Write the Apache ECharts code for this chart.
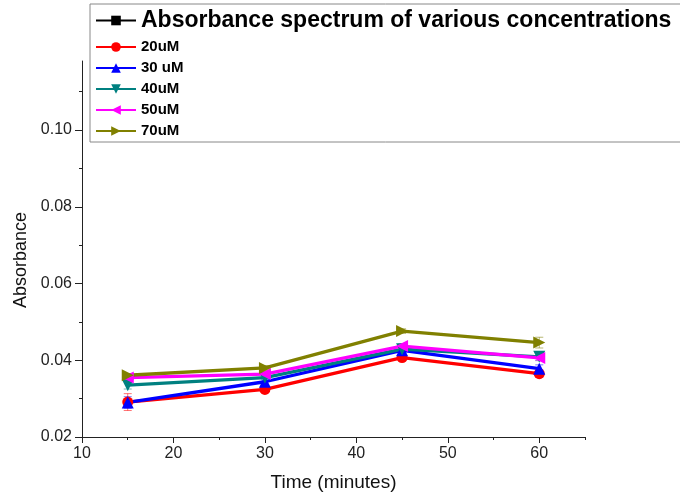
<!DOCTYPE html>
<html><head><meta charset="utf-8">
<script src="https://cdn.jsdelivr.net/npm/echarts@6/dist/echarts.min.js"></script>
<style>html,body{margin:0;padding:0;background:#fff}#c{width:680px;height:493px}</style>
</head><body><div id="c"></div>
<script>
// ---- data ----
const times = [15, 30, 45, 60];
const legendTitle = 'Absorbance spectrum of various concentrations';
const seriesNames = ['20uM', '30 uM', '40uM', '50uM', '70uM'];
const v20 = [0.0291, 0.0324, 0.0407, 0.0365];
const v30 = [0.0290, 0.0344, 0.0426, 0.0378];
const v40 = [0.0335, 0.0355, 0.0429, 0.0409];
const v50 = [0.0355, 0.0364, 0.0437, 0.0406];
const v70 = [0.0361, 0.0380, 0.0476, 0.0446];
const e20 = [0.0022, 0.0008, 0.0008, 0.0010];
const e30 = [0.0015, 0.0008, 0.0008, 0.0010];
const e40 = [0.0010, 0.0006, 0.0006, 0.0010];
const e50 = [0.0006, 0.0006, 0.0006, 0.0006];
const e70 = [0.0004, 0.0006, 0.0006, 0.0014];
const xMajor = [10, 20, 30, 40, 50, 60];
const xMinor = [15, 25, 35, 45, 55, 65];
const yMajor = [0.02, 0.04, 0.06, 0.08, 0.10];
const yMinor = [0.03, 0.05, 0.07, 0.09, 0.11];

const values = [v20, v30, v40, v50, v70];
const errors = [e20, e30, e40, e50, e70];
const colors = ['#ff0000', '#0000ff', '#008080', '#ff00ff', '#808000'];
const symbols = ['circle', 'triangle', 'triangle', 'triangle', 'triangle'];
const rotates = [0, 0, 180, 90, -90];
const FONT = 'Liberation Sans';

const series = [];
series.push({ name: legendTitle, type: 'line', data: [], symbol: 'rect', symbolSize: 7,
  itemStyle: { color: '#000' }, lineStyle: { color: '#000', width: 3 } });
values.forEach((vals, i) => {
  const err = errors[i];
  series.push({
    name: seriesNames[i] + ' err', type: 'custom', xAxisIndex: 0, yAxisIndex: 0, z: 1, silent: true,
    data: times.map((t, k) => [t, vals[k] - err[k], vals[k] + err[k]]),
    renderItem: function (params, api) {
      const lo = api.coord([api.value(0), api.value(1)]);
      const hi = api.coord([api.value(0), api.value(2)]);
      const w = 4;
      const st = { stroke: colors[i], lineWidth: 1, opacity: 0.55 };
      return { type: 'group', children: [
        { type: 'line', shape: { x1: lo[0], y1: lo[1], x2: hi[0], y2: hi[1] }, style: st },
        { type: 'line', shape: { x1: lo[0] - w, y1: lo[1], x2: lo[0] + w, y2: lo[1] }, style: st },
        { type: 'line', shape: { x1: hi[0] - w, y1: hi[1], x2: hi[0] + w, y2: hi[1] }, style: st }
      ]};
    }
  });
  series.push({
    name: seriesNames[i], type: 'line', z: 2,
    data: times.map((t, k) => [t, vals[k]]),
    symbol: symbols[i], symbolRotate: rotates[i], symbolSize: i === 0 ? 11 : 12,
    itemStyle: { color: colors[i] }, lineStyle: { color: colors[i], width: 3.3 },
    emphasis: { disabled: true }
  });
});

const legendData = [{ name: legendTitle, textStyle: { fontSize: 23, lineHeight: 27 } }]
  .concat(seriesNames.map(n => ({ name: n, textStyle: { fontSize: 15, lineHeight: 16 } })));

const axisLabelStyle = { fontFamily: FONT, fontSize: 16, color: '#222' };
const chart = echarts.init(document.getElementById('c'), null, { renderer: 'canvas' });
chart.setOption({
  animation: false,
  backgroundColor: '#fff',
  grid: { left: 82, right: 95, top: 61, bottom: 56, containLabel: false, outerBoundsMode: 'none' },
  legend: {
    data: legendData, orient: 'vertical', left: 90, top: 4,
    padding: [3, 60, 3, 5], itemGap: 5, itemWidth: 40, itemHeight: 12,
    borderColor: '#888', borderWidth: 1, backgroundColor: '#fff',
    textStyle: { fontFamily: FONT, fontWeight: 'bold', color: '#000' },
    selectedMode: false
  },
  xAxis: [{
    type: 'value', position: 'bottom', min: 10, max: 65,
    name: 'Time (minutes)', nameLocation: 'middle', nameGap: 36,
    nameTextStyle: { fontFamily: FONT, fontSize: 19, color: '#111' },
    axisLine: { onZero: false, lineStyle: { color: '#222', width: 1 } },
    axisTick: { customValues: xMajor, length: 6, inside: false, lineStyle: { color: '#222' } },
    axisLabel: { customValues: xMajor, margin: 9, ...axisLabelStyle },
    splitLine: { show: false }
  }, {
    type: 'value', position: 'bottom', min: 10, max: 65,
    axisLine: { show: false, onZero: false },
    axisTick: { customValues: xMinor, length: 3, lineStyle: { color: '#222' } },
    axisLabel: { show: false }, splitLine: { show: false }
  }],
  yAxis: [{
    type: 'value', position: 'left', min: 0.02, max: 0.118,
    name: 'Absorbance', nameLocation: 'middle', nameGap: 50, nameRotate: 90,
    nameTextStyle: { fontFamily: FONT, fontSize: 18, color: '#111', padding: [0, 22, 0, 0] },
    axisLine: { show: true, onZero: false, lineStyle: { color: '#222', width: 1 } },
    axisTick: { show: true, customValues: yMajor, length: 7, lineStyle: { color: '#222' } },
    axisLabel: { customValues: yMajor, margin: 10, formatter: v => v.toFixed(2), ...axisLabelStyle },
    splitLine: { show: false }
  }, {
    type: 'value', position: 'left', min: 0.02, max: 0.118,
    axisLine: { show: false, onZero: false },
    axisTick: { show: true, customValues: yMinor, length: 3, lineStyle: { color: '#222' } },
    axisLabel: { show: false }, splitLine: { show: false }
  }],
  series: series
});
</script></body></html>
